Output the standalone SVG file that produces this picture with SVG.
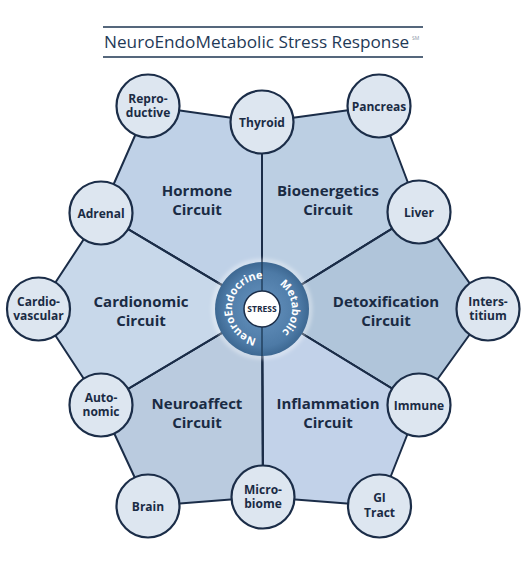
<svg xmlns="http://www.w3.org/2000/svg" width="526" height="570" viewBox="0 0 526 570">
<defs>
<style>
.sec{stroke:#1b2d48;stroke-width:2;stroke-linejoin:round}
.spoke{stroke:#1b2d48;stroke-width:2;fill:none}
.node{fill:#dde6f0;stroke:#1b2d48;stroke-width:2.2}
.nl{font-family:"Open Sans","Noto Sans","DejaVu Sans",sans-serif;font-weight:700;font-size:12px;fill:#1a2b44;text-anchor:middle}
.sl{font-family:"Open Sans","Noto Sans","DejaVu Sans",sans-serif;font-weight:700;font-size:15px;fill:#1a2b44;text-anchor:middle}
.hub{font-family:"Open Sans","Noto Sans","DejaVu Sans",sans-serif;font-weight:700;font-size:11px;fill:#ffffff;text-anchor:middle}
</style>
<radialGradient id="ringGrad" cx="262" cy="309" r="47" gradientUnits="userSpaceOnUse">
<stop offset="0.4" stop-color="#5a87b3"/>
<stop offset="0.8" stop-color="#4d7aa6"/>
<stop offset="1" stop-color="#3d6892"/>
</radialGradient>
<filter id="glow" x="-30%" y="-30%" width="160%" height="160%">
<feGaussianBlur stdDeviation="2"/>
</filter>
<path id="arcL" d="M 258.86 338.84 A 30 30 0 0 1 265.14 279.16"/>
<path id="arcR" d="M 260.43 279.04 A 30 30 0 0 1 263.57 338.96"/>
</defs>

<g id="title">
<line x1="103" y1="27" x2="423" y2="27" stroke="#1d3450" stroke-width="1.5"/>
<line x1="103" y1="57" x2="423" y2="57" stroke="#1d3450" stroke-width="1.5"/>
<text x="104" y="48" font-family="'Open Sans','Noto Sans',sans-serif" font-size="17.2" fill="#1f3a57">NeuroEndoMetabolic Stress Response</text>
<text x="412" y="40" font-family="'Open Sans','Noto Sans',sans-serif" font-size="5" fill="#8a96a6">SM</text>
</g>

<g id="sectors">
<polygon id="hormone-sector" class="sec" fill="#bfd1e7" points="262,309 101,213 148,106 262,122"/>
<polygon id="bioenergetics-sector" class="sec" fill="#bccfe3" points="262,309 262,122 379,106 419,212"/>
<polygon id="detox-sector" class="sec" fill="#b0c5da" points="262,309 419,212 488,309 419,405"/>
<polygon id="inflammation-sector" class="sec" fill="#c2d2e9" points="262,309 419,405 379,506 263,497"/>
<polygon id="neuroaffect-sector" class="sec" fill="#bacbdf" points="262,309 263,497 148,506 101,405"/>
<polygon id="cardionomic-sector" class="sec" fill="#c8d8ea" points="262,309 101,405 38,309 101,213"/>
</g>

<g id="connectors">
<line class="spoke" x1="262" y1="309" x2="262" y2="122"/>
<line class="spoke" x1="262" y1="309" x2="419" y2="212"/>
<line class="spoke" x1="262" y1="309" x2="419" y2="405"/>
<line class="spoke" x1="262" y1="309" x2="263" y2="497"/>
<line class="spoke" x1="262" y1="309" x2="101" y2="405"/>
<line class="spoke" x1="262" y1="309" x2="101" y2="213"/>
</g>

<g id="sector-labels">
<text class="sl" x="197" y="196">Hormone</text>
<text class="sl" x="197" y="215">Circuit</text>
<text class="sl" x="328" y="196">Bioenergetics</text>
<text class="sl" x="328" y="215">Circuit</text>
<text class="sl" x="141" y="307">Cardionomic</text>
<text class="sl" x="141" y="326">Circuit</text>
<text class="sl" x="386" y="307">Detoxification</text>
<text class="sl" x="386" y="326">Circuit</text>
<text class="sl" x="197" y="409">Neuroaffect</text>
<text class="sl" x="197" y="428">Circuit</text>
<text class="sl" x="328" y="409">Inflammation</text>
<text class="sl" x="328" y="428">Circuit</text>
</g>

<g id="hub">
<circle cx="262" cy="309" r="48" fill="none" stroke="#ffffff" stroke-opacity="0.6" stroke-width="3" filter="url(#glow)"/>
<circle cx="262" cy="309" r="47" fill="url(#ringGrad)"/>
<line x1="262" y1="262" x2="262" y2="356" stroke="#22405f" stroke-width="1.5"/>
<text class="hub"><textPath href="#arcL" startOffset="50%">NeuroEndocrine</textPath></text>
<text class="hub"><textPath href="#arcR" startOffset="50%">Metabolic</textPath></text>
<circle cx="262" cy="309" r="18" fill="#ffffff" stroke="#1b2d48" stroke-width="1.5"/>
<text x="262" y="312" font-family="'Open Sans','Noto Sans',sans-serif" font-weight="700" font-size="8.5" fill="#1a2b44" text-anchor="middle">STRESS</text>
</g>

<g id="node-reproductive"><circle class="node" cx="148" cy="106" r="31.5"/><text class="nl" x="148" y="103">Repro-</text><text class="nl" x="148" y="117">ductive</text></g>
<g id="node-thyroid"><circle class="node" cx="262" cy="122" r="31.5"/><text class="nl" x="262" y="126.5">Thyroid</text></g>
<g id="node-pancreas"><circle class="node" cx="379" cy="106" r="31.5"/><text class="nl" x="379" y="110.5">Pancreas</text></g>
<g id="node-adrenal"><circle class="node" cx="101" cy="213" r="31.5"/><text class="nl" x="101" y="217.5">Adrenal</text></g>
<g id="node-liver"><circle class="node" cx="419" cy="212" r="31.5"/><text class="nl" x="419" y="216.5">Liver</text></g>
<g id="node-cardiovascular"><circle class="node" cx="38.5" cy="309" r="31.5"/><text class="nl" x="38.5" y="305.5">Cardio-</text><text class="nl" x="38.5" y="319.5">vascular</text></g>
<g id="node-interstitium"><circle class="node" cx="488" cy="309" r="31.5"/><text class="nl" x="488" y="305.5">Inters-</text><text class="nl" x="488" y="319.5">titium</text></g>
<g id="node-autonomic"><circle class="node" cx="101" cy="405" r="31.5"/><text class="nl" x="101" y="401.5">Auto-</text><text class="nl" x="101" y="415.5">nomic</text></g>
<g id="node-immune"><circle class="node" cx="419" cy="405" r="31.5"/><text class="nl" x="419" y="409.5">Immune</text></g>
<g id="node-brain"><circle class="node" cx="148" cy="506" r="31.5"/><text class="nl" x="148" y="510.5">Brain</text></g>
<g id="node-microbiome"><circle class="node" cx="263" cy="497" r="31.5"/><text class="nl" x="263" y="493.5">Micro-</text><text class="nl" x="263" y="507.5">biome</text></g>
<g id="node-gitract"><circle class="node" cx="379.5" cy="506" r="31.5"/><text class="nl" x="379.5" y="502">GI</text><text class="nl" x="379.5" y="516.5">Tract</text></g>
</svg>
